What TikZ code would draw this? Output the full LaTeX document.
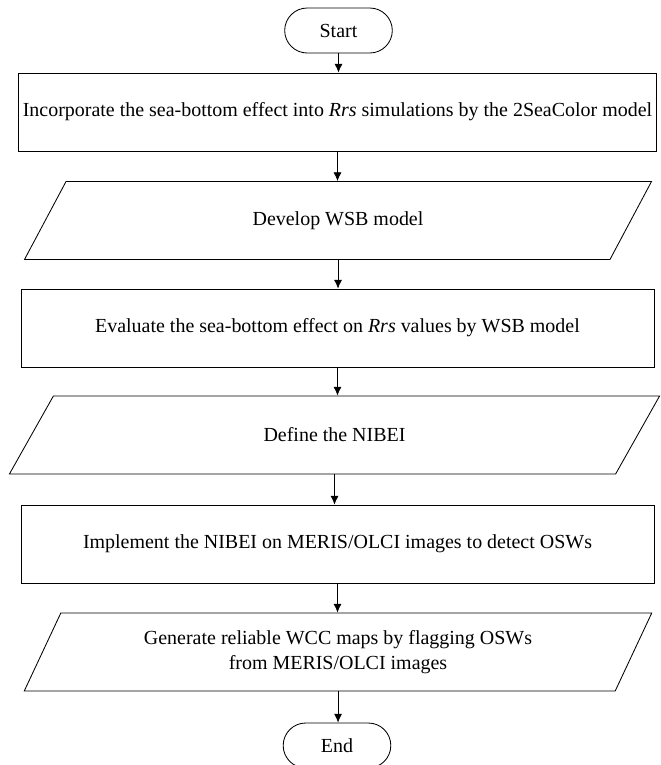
\documentclass[tikz,border=0pt]{standalone}
\usepackage{fontspec}
\setmainfont{Liberation Serif}
\usetikzlibrary{shapes.geometric,shapes.misc,arrows.meta}
\begin{document}
\begin{tikzpicture}[line width=0.6pt,font=\fontsize{14.2}{17.5}\selectfont,
    procbox/.style={draw,minimum height=1.95cm,minimum width=15.825cm,align=center},
    iobox/.style={draw,trapezium,trapezium left angle=63.4,trapezium right angle=116.6,trapezium stretches,minimum height=1.95cm,align=center},
    termbox/.style={draw,rounded rectangle,minimum height=1.125cm,minimum width=2.925cm},
    flow/.style={-{Latex[length=2.2mm,width=2mm]},line width=0.5pt}]
    \useasboundingbox (0,0) rectangle (16.525,-19.125);

    \node at (8.4625,-0.7625) [termbox] (start) {Start};
    \node at (8.4375,-2.8) [procbox] (incorp) {Incorporate the sea-bottom effect into \textit{Rrs} simulations by the 2SeaColor model};
    \node at (8.45,-5.5125) [iobox,minimum width=15.7cm] (wsb) {Develop WSB model};
    \node at (8.4375,-8.2) [procbox] (evaluate) {Evaluate the sea-bottom effect on \textit{Rrs} values by WSB model};
    \node at (8.3625,-10.875) [iobox,minimum width=16.275cm] (nibei) {Define the NIBEI};
    \node at (8.4375,-13.6) [procbox] (implement) {Implement the NIBEI on MERIS/OLCI images to detect OSWs};
    \node at (8.45,-16.3) [iobox,minimum width=15.75cm] (wcc) {Generate reliable WCC maps by flagging OSWs\\from MERIS/OLCI images};
    \node at (8.425,-18.6375) [termbox] (end) {End};

    \draw[flow] (start.south) -- (start.south |- incorp.north);
    \draw[flow] (incorp.south) -- (incorp.south |- wsb.north);
    \draw[flow] (wsb.south) -- (wsb.south |- evaluate.north);
    \draw[flow] (evaluate.south) -- (evaluate.south |- nibei.north);
    \draw[flow] (nibei.south) -- (nibei.south |- implement.north);
    \draw[flow] (implement.south) -- (implement.south |- wcc.north);
    \draw[flow] (wcc.south) -- (wcc.south |- end.north);
\end{tikzpicture}
\end{document}
